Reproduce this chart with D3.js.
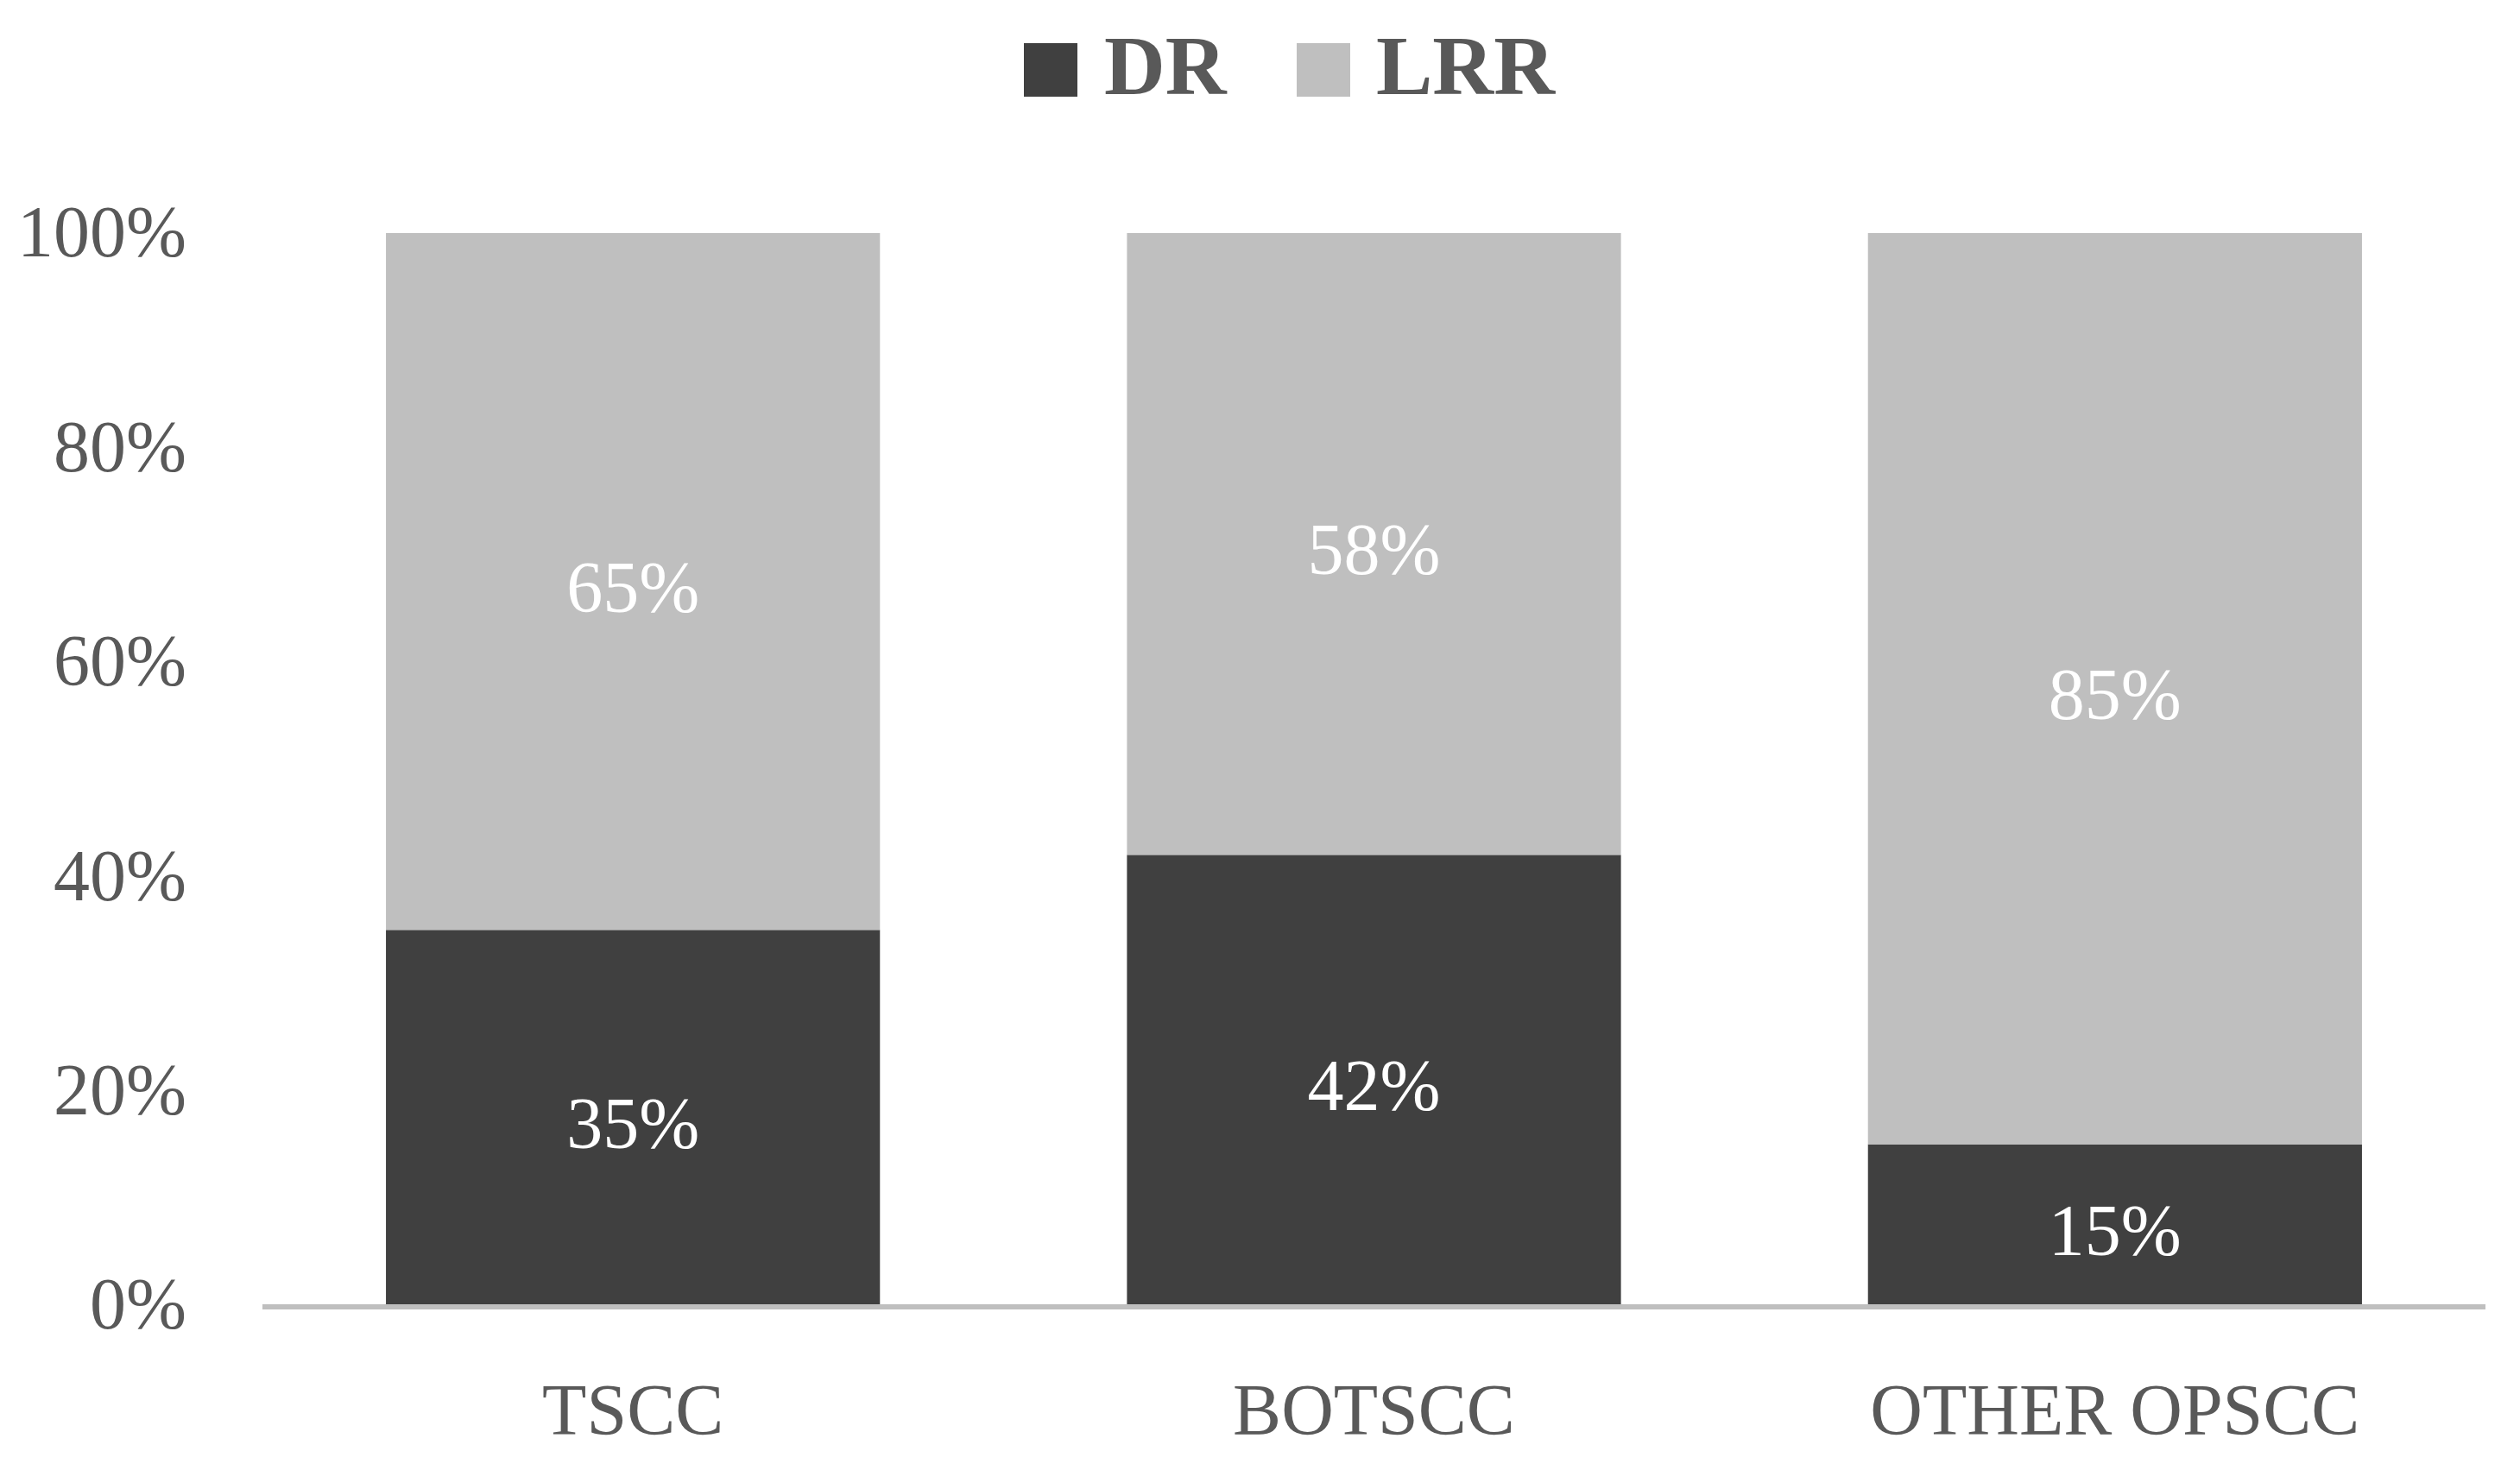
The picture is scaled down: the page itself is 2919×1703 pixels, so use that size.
<!DOCTYPE html>
<html><head><meta charset="utf-8">
<script src="https://cdn.jsdelivr.net/npm/d3@7"></script>
<style>html,body{margin:0;padding:0;background:#fff;overflow:hidden}</style>
</head><body>
<svg id="c" width="2919" height="1703"></svg>
<script>
const categories = ["TSCC", "BOTSCC", "OTHER OPSCC"];
const seriesNames = ["DR", "LRR"];
const drValues = [35, 42, 15];
const lrrValues = [65, 58, 85];
const tickValues = [0, 20, 40, 60, 80, 100];
const colors = {DR: "#404040", LRR: "#BFBFBF"};

const W = 2919, H = 1703;
const svg = d3.select("#c");
const font = "'Liberation Serif', 'DejaVu Serif', serif";
const textColor = "#595959";

const x = d3.scaleBand().domain(categories).range([304, 2879]).paddingInner(1/3).paddingOuter(1/6);
const y = d3.scaleLinear().domain([0, 100]).range([1512, 270]);

const rows = categories.map((c, i) => ({cat: c, DR: drValues[i], LRR: lrrValues[i]}));
const stacked = d3.stack().keys(seriesNames)(rows);

// bars
const g = svg.append("g");
stacked.forEach(s => {
  g.selectAll(null).data(s).enter().append("rect")
    .attr("x", d => x(d.data.cat))
    .attr("width", x.bandwidth())
    .attr("y", d => y(d[1]))
    .attr("height", d => y(d[0]) - y(d[1]))
    .attr("fill", colors[s.key]);
  g.selectAll(null).data(s).enter().append("text")
    .attr("x", d => x(d.data.cat) + x.bandwidth() / 2)
    .attr("y", d => (y(d[0]) + y(d[1])) / 2)
    .attr("dy", "0.42em")
    .attr("text-anchor", "middle")
    .attr("font-family", font)
    .attr("font-size", 84)
    .attr("fill", "#ffffff")
    .text(d => (d[1] - d[0]) + "%");
});

// x axis line
svg.append("line")
  .attr("x1", x.range()[0]).attr("x2", x.range()[1])
  .attr("y1", y(0) + 2).attr("y2", y(0) + 2)
  .attr("stroke", "#BFBFBF").attr("stroke-width", 6);

// y axis labels
const yAxis = d3.axisLeft(y).tickValues(tickValues).tickFormat(d => d + "%").tickSize(0).tickPadding(0);
const ya = svg.append("g").attr("transform", "translate(216,0)").call(yAxis);
ya.select(".domain").remove();
ya.selectAll("text").attr("font-family", font).attr("font-size", 84).attr("fill", textColor).attr("dy", "0.32em");

// x axis labels
const xAxis = d3.axisBottom(x).tickSize(0).tickPadding(0);
const xa = svg.append("g").attr("transform", "translate(0,1662)").call(xAxis);
xa.select(".domain").remove();
xa.selectAll("text").attr("font-family", font).attr("font-size", 84).attr("fill", textColor).attr("dy", 0).attr("y", 0);

// legend
const legendItems = [{name: "DR", sx: 1186, tx: 1279}, {name: "LRR", sx: 1502, tx: 1594}];
const lg = svg.append("g");
legendItems.forEach(it => {
  lg.append("rect").attr("x", it.sx).attr("y", 50).attr("width", 62).attr("height", 62).attr("fill", colors[it.name]);
  lg.append("text").attr("x", it.tx).attr("y", 109)
    .attr("font-family", font).attr("font-weight", "bold").attr("font-size", 98)
    .attr("fill", textColor).text(it.name);
});
</script>
</body></html>
